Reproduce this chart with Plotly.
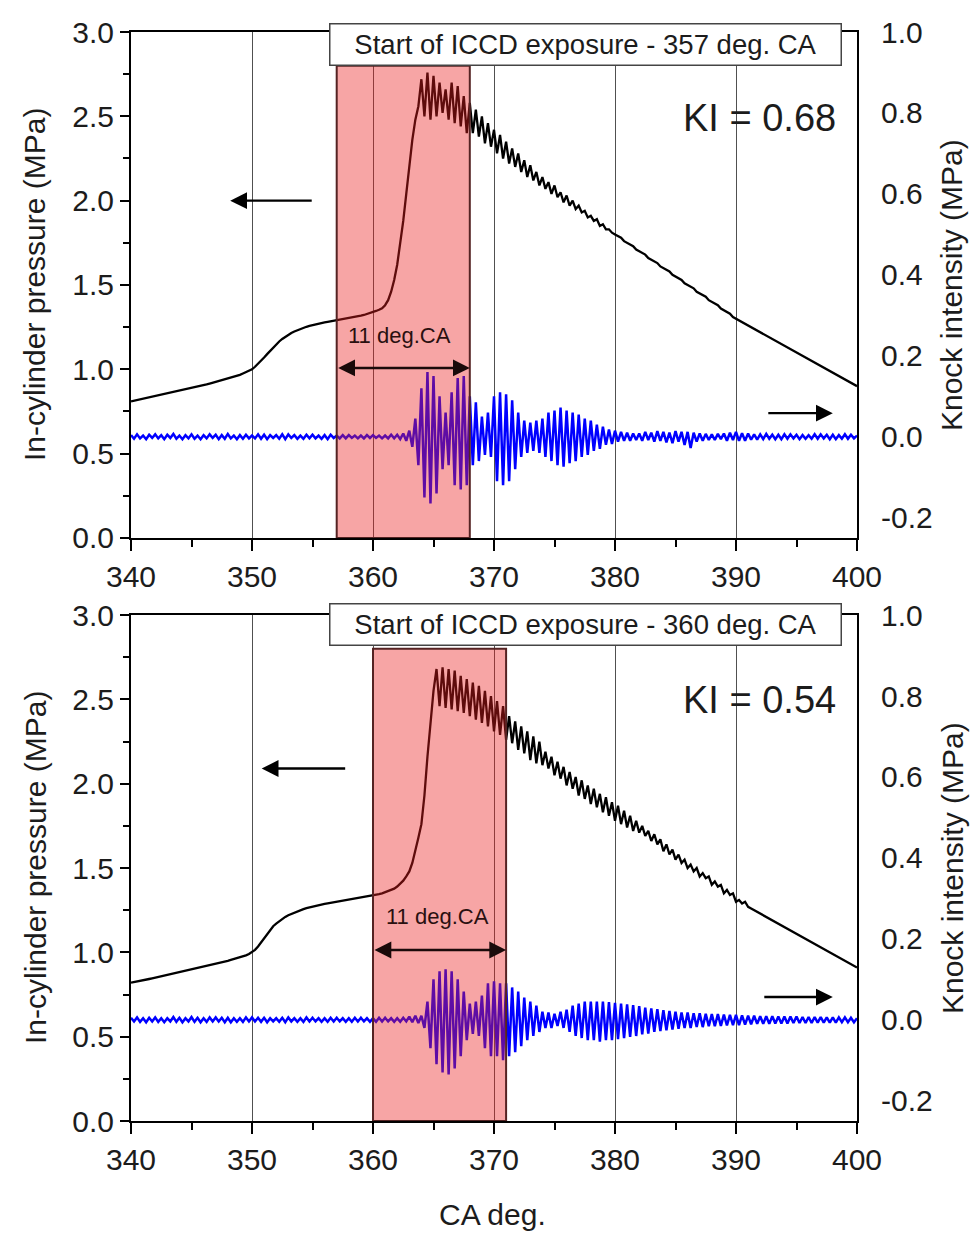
import numpy as np
import plotly.graph_objects as go

# Crank-angle sample grid shared by all four traces (0.25 deg resolution)
ca = np.linspace(340, 400, 241)

# In-cylinder pressure, exposure starting at 357 deg CA (MPa)
pressure_357 = [
    0.810, 0.814, 0.818, 0.822,
    0.826, 0.830, 0.834, 0.838,
    0.842, 0.846, 0.850, 0.853,
    0.857, 0.860, 0.864, 0.867,
    0.871, 0.875, 0.879, 0.882,
    0.886, 0.890, 0.895, 0.900,
    0.905, 0.910, 0.915, 0.920,
    0.925, 0.930, 0.935, 0.940,
    0.945, 0.950, 0.955, 0.960,
    0.967, 0.975, 0.983, 0.991,
    1.000, 1.015, 1.032, 1.050,
    1.070, 1.090, 1.110, 1.130,
    1.150, 1.165, 1.180, 1.193,
    1.205, 1.215, 1.224, 1.232,
    1.240, 1.246, 1.252, 1.257,
    1.262, 1.266, 1.270, 1.274,
    1.278, 1.281, 1.284, 1.287,
    1.290, 1.293, 1.296, 1.299,
    1.302, 1.306, 1.310, 1.314,
    1.318, 1.322, 1.327, 1.333,
    1.340, 1.346, 1.353, 1.362,
    1.380, 1.410, 1.460, 1.530,
    1.620, 1.740, 1.880, 2.040,
    2.200, 2.360, 2.480, 2.560,
    2.720, 2.500, 2.760, 2.480,
    2.740, 2.500, 2.700, 2.520,
    2.660, 2.480, 2.700, 2.460,
    2.680, 2.440, 2.620, 2.400,
    2.580, 2.400, 2.540, 2.380,
    2.500, 2.340, 2.460, 2.320,
    2.420, 2.280, 2.390, 2.250,
    2.350, 2.220, 2.310, 2.200,
    2.280, 2.170, 2.240, 2.140,
    2.210, 2.120, 2.170, 2.090,
    2.140, 2.070, 2.110, 2.040,
    2.090, 2.020, 2.050, 1.990,
    2.030, 1.970, 2.000, 1.950,
    1.970, 1.930, 1.940, 1.900,
    1.910, 1.880, 1.890, 1.850,
    1.860, 1.830, 1.830, 1.810,
    1.800, 1.790, 1.780, 1.760,
    1.750, 1.740, 1.730, 1.710,
    1.700, 1.690, 1.680, 1.660,
    1.650, 1.640, 1.630, 1.610,
    1.600, 1.590, 1.580, 1.560,
    1.550, 1.540, 1.530, 1.510,
    1.500, 1.490, 1.480, 1.460,
    1.450, 1.440, 1.430, 1.410,
    1.400, 1.390, 1.380, 1.360,
    1.350, 1.340, 1.330, 1.310,
    1.300, 1.290, 1.280, 1.270,
    1.260, 1.250, 1.240, 1.230,
    1.220, 1.210, 1.200, 1.190,
    1.180, 1.170, 1.160, 1.150,
    1.140, 1.130, 1.120, 1.110,
    1.100, 1.090, 1.080, 1.070,
    1.060, 1.050, 1.040, 1.030,
    1.020, 1.010, 1.000, 0.990,
    0.980, 0.970, 0.960, 0.950,
    0.940, 0.930, 0.920, 0.910,
    0.900,
]

# Knock intensity (band-pass pressure), exposure starting at 357 deg CA (MPa)
knock_357 = [
    0.004, -0.005, 0.006, -0.004,
    0.003, -0.006, 0.005, -0.003,
    0.006, -0.004, 0.004, -0.006,
    0.005, -0.003, 0.007, -0.005,
    0.003, -0.006, 0.004, -0.004,
    0.006, -0.005, 0.003, -0.006,
    0.004, -0.004, 0.006, -0.003,
    0.005, -0.006, 0.004, -0.005,
    0.007, -0.004, 0.003, -0.006,
    0.004, -0.005, 0.005, -0.004,
    0.003, -0.004, 0.006, -0.005,
    0.005, -0.006, 0.004, -0.003,
    0.004, -0.005, 0.006, -0.006,
    0.006, -0.003, 0.004, -0.005,
    0.003, -0.005, 0.005, -0.004,
    0.005, -0.004, 0.003, -0.005,
    0.004, -0.006, 0.005, -0.003,
    0.003, -0.004, 0.004, -0.004,
    0.004, -0.003, 0.003, -0.004,
    0.003, -0.004, 0.004, -0.003,
    0.004, -0.003, 0.003, -0.004,
    0.003, -0.004, 0.005, -0.004,
    0.005, -0.006, 0.008, -0.010,
    0.015, -0.025, 0.045, -0.070,
    0.120, -0.150, 0.160, -0.165,
    0.150, -0.140, 0.100, -0.080,
    0.060, -0.070, 0.110, -0.120,
    0.145, -0.130, 0.150, -0.120,
    0.100, -0.070, 0.085, -0.060,
    0.050, -0.045, 0.060, -0.050,
    0.100, -0.110, 0.110, -0.120,
    0.105, -0.110, 0.090, -0.080,
    0.060, -0.050, 0.040, -0.040,
    0.035, -0.035, 0.040, -0.040,
    0.045, -0.050, 0.060, -0.060,
    0.065, -0.070, 0.072, -0.074,
    0.065, -0.065, 0.060, -0.060,
    0.055, -0.050, 0.045, -0.045,
    0.040, -0.035, 0.030, -0.030,
    0.025, -0.020, 0.018, -0.018,
    0.015, -0.012, 0.012, -0.010,
    0.010, -0.010, 0.008, -0.008,
    0.008, -0.010, 0.012, -0.008,
    0.010, -0.012, 0.014, -0.010,
    0.012, -0.014, 0.010, -0.016,
    0.014, -0.012, 0.012, -0.020,
    0.012, -0.028, 0.010, -0.012,
    0.008, -0.010, 0.007, -0.008,
    0.006, -0.008, 0.007, -0.006,
    0.008, -0.010, 0.010, -0.008,
    0.012, -0.010, 0.009, -0.010,
    0.008, -0.007, 0.006, -0.007,
    0.006, -0.006, 0.007, -0.005,
    0.005, -0.006, 0.005, -0.006,
    0.006, -0.005, 0.006, -0.004,
    0.005, -0.006, 0.004, -0.005,
    0.004, -0.005, 0.006, -0.005,
    0.006, -0.004, 0.005, -0.006,
    0.005, -0.006, 0.004, -0.005,
    0.006, -0.005, 0.005, -0.004,
    0.003,
]

# In-cylinder pressure, exposure starting at 360 deg CA (MPa)
pressure_360 = [
    0.820, 0.823, 0.826, 0.830,
    0.834, 0.838, 0.842, 0.846,
    0.850, 0.854, 0.858, 0.862,
    0.866, 0.870, 0.874, 0.878,
    0.882, 0.886, 0.890, 0.894,
    0.898, 0.902, 0.906, 0.910,
    0.914, 0.918, 0.922, 0.926,
    0.930, 0.935, 0.940, 0.945,
    0.950, 0.955, 0.960, 0.965,
    0.970, 0.976, 0.982, 0.990,
    1.000, 1.015, 1.035, 1.060,
    1.085, 1.110, 1.135, 1.155,
    1.170, 1.185, 1.198, 1.210,
    1.220, 1.228, 1.236, 1.243,
    1.250, 1.256, 1.262, 1.267,
    1.272, 1.276, 1.280, 1.284,
    1.288, 1.291, 1.294, 1.297,
    1.300, 1.303, 1.306, 1.309,
    1.312, 1.315, 1.318, 1.321,
    1.324, 1.327, 1.330, 1.333,
    1.336, 1.340, 1.345, 1.350,
    1.356, 1.362, 1.370, 1.378,
    1.390, 1.405, 1.425, 1.450,
    1.480, 1.530, 1.600, 1.680,
    1.760, 1.930, 2.160, 2.380,
    2.550, 2.680, 2.460, 2.690,
    2.450, 2.680, 2.440, 2.670,
    2.430, 2.640, 2.420, 2.620,
    2.400, 2.600, 2.380, 2.580,
    2.360, 2.550, 2.340, 2.520,
    2.310, 2.490, 2.290, 2.460,
    2.260, 2.400, 2.240, 2.370,
    2.200, 2.340, 2.180, 2.310,
    2.140, 2.280, 2.120, 2.250,
    2.110, 2.190, 2.090, 2.160,
    2.050, 2.130, 2.030, 2.100,
    1.990, 2.070, 1.970, 2.040,
    1.930, 2.020, 1.910, 1.990,
    1.880, 1.970, 1.860, 1.940,
    1.830, 1.920, 1.810, 1.890,
    1.780, 1.870, 1.760, 1.840,
    1.740, 1.810, 1.720, 1.780,
    1.710, 1.750, 1.690, 1.720,
    1.660, 1.700, 1.640, 1.670,
    1.600, 1.640, 1.580, 1.610,
    1.550, 1.580, 1.530, 1.550,
    1.500, 1.520, 1.480, 1.500,
    1.450, 1.470, 1.440, 1.450,
    1.400, 1.420, 1.390, 1.400,
    1.350, 1.370, 1.340, 1.350,
    1.300, 1.310, 1.290, 1.300,
    1.270, 1.260, 1.250, 1.240,
    1.230, 1.220, 1.210, 1.200,
    1.190, 1.180, 1.170, 1.160,
    1.150, 1.140, 1.130, 1.120,
    1.110, 1.100, 1.090, 1.080,
    1.070, 1.060, 1.050, 1.040,
    1.030, 1.020, 1.010, 1.000,
    0.990, 0.980, 0.970, 0.960,
    0.950, 0.940, 0.930, 0.920,
    0.910,
]

# Knock intensity, exposure starting at 360 deg CA (MPa)
knock_360 = [
    0.005, -0.004, 0.006, -0.005,
    0.004, -0.006, 0.005, -0.004,
    0.006, -0.005, 0.004, -0.006,
    0.004, -0.004, 0.007, -0.005,
    0.005, -0.006, 0.004, -0.004,
    0.007, -0.005, 0.005, -0.006,
    0.004, -0.005, 0.006, -0.004,
    0.006, -0.004, 0.005, -0.006,
    0.005, -0.006, 0.004, -0.005,
    0.004, -0.005, 0.006, -0.004,
    0.006, -0.004, 0.005, -0.005,
    0.005, -0.006, 0.004, -0.004,
    0.004, -0.005, 0.005, -0.006,
    0.006, -0.004, 0.004, -0.005,
    0.004, -0.005, 0.006, -0.004,
    0.005, -0.004, 0.004, -0.005,
    0.004, -0.005, 0.005, -0.004,
    0.005, -0.004, 0.004, -0.005,
    0.004, -0.005, 0.005, -0.004,
    0.005, -0.004, 0.004, -0.005,
    0.004, -0.005, 0.005, -0.004,
    0.005, -0.004, 0.004, -0.005,
    0.004, -0.005, 0.005, -0.004,
    0.008, -0.006, 0.010, -0.008,
    0.010, -0.020, 0.045, -0.070,
    0.100, -0.110, 0.120, -0.130,
    0.125, -0.135, 0.120, -0.120,
    0.100, -0.090, 0.070, -0.050,
    0.040, -0.035, 0.045, -0.040,
    0.060, -0.070, 0.090, -0.090,
    0.095, -0.090, 0.090, -0.100,
    0.090, -0.090, 0.080, -0.080,
    0.070, -0.065, 0.055, -0.050,
    0.045, -0.040, 0.035, -0.030,
    0.020, -0.020, 0.018, -0.020,
    0.015, -0.015, 0.020, -0.020,
    0.025, -0.030, 0.035, -0.040,
    0.040, -0.045, 0.045, -0.050,
    0.045, -0.050, 0.045, -0.054,
    0.045, -0.050, 0.044, -0.050,
    0.042, -0.048, 0.040, -0.045,
    0.038, -0.042, 0.036, -0.040,
    0.034, -0.036, 0.030, -0.034,
    0.028, -0.030, 0.026, -0.028,
    0.024, -0.026, 0.022, -0.024,
    0.020, -0.022, 0.018, -0.020,
    0.018, -0.020, 0.016, -0.018,
    0.016, -0.018, 0.015, -0.016,
    0.014, -0.016, 0.014, -0.015,
    0.013, -0.014, 0.012, -0.013,
    0.012, -0.013, 0.011, -0.012,
    0.010, -0.011, 0.010, -0.010,
    0.009, -0.010, 0.009, -0.010,
    0.009, -0.009, 0.008, -0.009,
    0.008, -0.009, 0.008, -0.008,
    0.008, -0.008, 0.007, -0.008,
    0.007, -0.008, 0.007, -0.007,
    0.007, -0.007, 0.006, -0.007,
    0.006, -0.007, 0.006, -0.006,
    0.006, -0.006, 0.005, -0.006,
    0.004,
]

for series in (pressure_357, knock_357, pressure_360, knock_360):
    assert len(series) == len(ca)

# Per-panel annotations
exposure_start = [357, 360]          # deg CA
exposure_length = 11                 # deg CA
knock_index = ["0.68", "0.54"]
ca_ticks = [340, 350, 360, 370, 380, 390, 400]
knock_ticks = [-0.2, 0.0, 0.2, 0.4, 0.6, 0.8, 1.0]

FONT = "Liberation Sans, Arial, sans-serif"
INK = "#1c1c1c"

# Plot-area geometry (paper fractions)
panel_domains = [[0.5354, 1.0], [0.0, 0.4646]]

fig = go.Figure()
traces = [(pressure_357, knock_357), (pressure_360, knock_360)]
for i, (p, k) in enumerate(traces):
    xa = "x" if i == 0 else "x2"
    ya = "y" if i == 0 else "y3"
    yb = "y2" if i == 0 else "y4"
    fig.add_trace(go.Scatter(x=ca, y=p, mode="lines", xaxis=xa, yaxis=ya,
                             line=dict(color="black", width=2.3), showlegend=False))
    fig.add_trace(go.Scatter(x=ca, y=k, mode="lines", xaxis=xa, yaxis=yb,
                             line=dict(color="#0000ff", width=2.5), showlegend=False))

axis_font = dict(family=FONT, size=30, color=INK)
layout = dict(
    width=973, height=1235,
    margin=dict(l=131, r=116, t=32, b=114),
    paper_bgcolor="white", plot_bgcolor="white",
    showlegend=False,
    font=dict(family=FONT, color=INK),
)

for i, dom in enumerate(panel_domains):
    xk = "xaxis" if i == 0 else "xaxis2"
    yk = "yaxis" if i == 0 else "yaxis3"
    rk = "yaxis2" if i == 0 else "yaxis4"
    yname = "y" if i == 0 else "y3"
    xname = "x" if i == 0 else "x2"
    layout[xk] = dict(
        domain=[0, 1], anchor=yname, range=[340, 400],
        tickvals=ca_ticks, ticktext=[str(v) for v in ca_ticks],
        showgrid=True, gridcolor="#505050", gridwidth=1,
        zeroline=False, showline=True, linecolor="black", linewidth=2, mirror=True,
        ticks="outside", ticklen=11, tickwidth=2, tickcolor="black",
        minor=dict(tickvals=[345, 355, 365, 375, 385, 395], ticks="outside",
                   ticklen=7, tickwidth=2, tickcolor="black", showgrid=False),
        tickfont=axis_font,
    )
    layout[yk] = dict(
        domain=dom, anchor=xname, range=[0, 3],
        tickmode="array", tickvals=[0, 0.5, 1.0, 1.5, 2.0, 2.5, 3.0],
        ticktext=["0.0", "0.5", "1.0", "1.5", "2.0", "2.5", "3.0"],
        showgrid=False, zeroline=False, showline=True, linecolor="black", linewidth=2,
        ticks="outside", ticklen=9, tickwidth=2, tickcolor="black",
        minor=dict(tickvals=[0.25, 0.75, 1.25, 1.75, 2.25, 2.75], ticks="outside",
                   ticklen=6, tickwidth=2, tickcolor="black", showgrid=False),
        tickfont=axis_font,
    )
    layout[rk] = dict(
        overlaying=yname, anchor=xname, side="right", range=[-0.25, 1.0],
        tickmode="array", tickvals=knock_ticks,
        ticktext=[f"{v:.1f}" for v in knock_ticks],
        showgrid=False, zeroline=False, showline=True, linecolor="black", linewidth=2,
        ticks="outside", ticklen=16, tickcolor="rgba(0,0,0,0)",
        tickfont=axis_font,
    )

fig.update_layout(**layout)

shapes = []
annotations = []
box_y = [0.9881, 0.4555]
ki_y = [0.921, 0.3866]
title_y = [0.7677, 0.2323]
left_arrow = [(348.2, 2.00, 83), (350.8, 2.09, 85)]
right_arrow = [(398.0, 0.74, -66), (398.0, 0.735, -70)]
span_y = [1.008, 1.014]
span_label = [(362.2, 1.20), (365.3, 1.21)]

for i in range(2):
    xname = "x" if i == 0 else "x2"
    yname = "y" if i == 0 else "y3"
    start = exposure_start[i]
    end = start + exposure_length
    # ICCD exposure window
    shapes.append(dict(type="rect", xref=xname, yref=yname,
                       x0=start, x1=end, y0=0, y1=2.8,
                       fillcolor="rgba(235,30,30,0.40)",
                       line=dict(color="rgb(85,35,35)", width=2), layer="above"))
    annotations.append(dict(
        text=f"Start of ICCD exposure - {start} deg. CA",
        xref="paper", yref="paper", x=0.6267, y=box_y[i],
        xanchor="center", yanchor="middle", showarrow=False,
        font=dict(family=FONT, size=27.5, color=INK),
        bgcolor="white", bordercolor="#444444", borderwidth=1.5,
        width=508, height=38, borderpad=1))
    annotations.append(dict(
        text=f"KI = {knock_index[i]}", xref="paper", yref="paper",
        x=0.866, y=ki_y[i], xanchor="center", yanchor="middle", showarrow=False,
        font=dict(family=FONT, size=38, color=INK)))
    annotations.append(dict(
        text="In-cylinder pressure (MPa)", xref="paper", yref="paper",
        x=-0.1322, y=title_y[i], textangle=-90, showarrow=False,
        xanchor="center", yanchor="middle",
        font=dict(family=FONT, size=30, color=INK)))
    annotations.append(dict(
        text="Knock intensity (MPa)", xref="paper", yref="paper",
        x=1.1309, y=title_y[i], textangle=-90, showarrow=False,
        xanchor="center", yanchor="middle",
        font=dict(family=FONT, size=30, color=INK)))
    # axis-pointer arrows
    lx, ly, lax = left_arrow[i]
    annotations.append(dict(x=lx, y=ly, xref=xname, yref=yname, ax=lax, ay=0,
                            text="", showarrow=True, arrowhead=2, arrowsize=1.4,
                            arrowwidth=2.4, arrowcolor="black", standoff=0))
    rx, ry, rax = right_arrow[i]
    annotations.append(dict(x=rx, y=ry, xref=xname, yref=yname, ax=rax, ay=0,
                            text="", showarrow=True, arrowhead=2, arrowsize=1.4,
                            arrowwidth=2.4, arrowcolor="black", standoff=0))
    # exposure duration span
    annotations.append(dict(x=end, y=span_y[i], xref=xname, yref=yname,
                            ax=start, ay=span_y[i], axref=xname, ayref=yname,
                            text="", showarrow=True, arrowhead=2, arrowsize=1.4,
                            arrowwidth=2.4, arrowcolor="#1a0a0a", arrowside="end+start",
                            standoff=0, startstandoff=0))
    sx, sy = span_label[i]
    annotations.append(dict(x=sx, y=sy, xref=xname, yref=yname, showarrow=False,
                            text=f"{exposure_length} deg.CA",
                            font=dict(family=FONT, size=22, color="#2a1010")))

annotations.append(dict(text="CA deg.", xref="paper", yref="paper",
                        x=0.4986, y=-0.0863, xanchor="center", yanchor="middle",
                        showarrow=False, font=dict(family=FONT, size=30, color=INK)))

fig.update_layout(shapes=shapes, annotations=annotations)
fig.write_html("out.html")
